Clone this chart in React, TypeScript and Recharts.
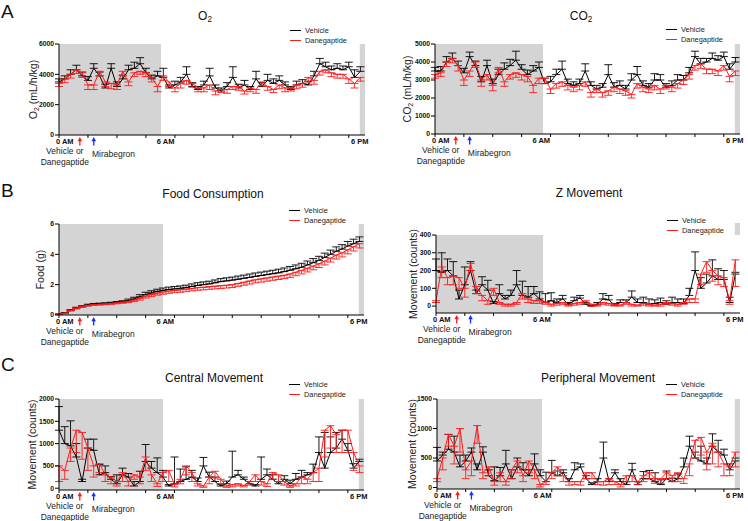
import React from 'react';
import { LineChart, Line, XAxis, YAxis, ErrorBar, ReferenceArea, ReferenceLine } from 'recharts';

const FONT = '"Liberation Sans", Arial, Helvetica, sans-serif';

// ---- categories (20-min sample index, 0 AM .. ~6 PM) ----
const sampleIndex = Array.from({ length: 53 }, (_, i) => i);
const xTicks = [0, 5, 10, 15, 20, 25, 30, 35, 40, 45, 50];
const X_MAX = 52.8;
const LIGHTS_OFF = 51.9; // 6 PM
const timeLabels = [
  { at: 1.0, text: '0 AM' },
  { at: 18.4, text: '6 AM' },
  { at: 51.9, text: '6 PM' },
];
const treatmentAt = 3.6;
const mirabegronAt = 6.0;
const seriesNames = ['Vehicle', 'Danegaptide'];
const seriesColors = ['#000000', '#ff1a1a'];

// ---- O2 ----
const o2Vehicle = [3500, 3700, 4000, 4300, 3900, 3600, 4400, 3900, 3100, 4400,
  3200, 3700, 4300, 4400, 4700, 4100, 3700, 3900, 3800, 3100,
  3300, 3500, 4000, 3200, 3000, 3300, 3900, 3100, 2900, 3200,
  3800, 3100, 3300, 3000, 3700, 3200, 3600, 3400, 3600, 3300,
  3000, 3300, 3400, 3300, 3900, 4700, 4500, 4300, 4400, 4300,
  4500, 3800, 4200];
const o2VehicleErr = [200, 200, 300, 300, 250, 250, 300, 250, 250, 300,
  300, 250, 300, 400, 400, 300, 250, 300, 600, 200,
  250, 300, 500, 250, 200, 250, 500, 200, 200, 250,
  700, 250, 300, 200, 500, 250, 400, 300, 300, 200,
  200, 250, 250, 250, 300, 350, 300, 250, 300, 250,
  300, 500, 300];
const o2Dan = [3400, 3700, 4000, 4300, 4100, 3300, 3300, 4200, 3500, 3400,
  3300, 4200, 3500, 4100, 4200, 4100, 3800, 3200, 3900, 3500,
  3100, 3400, 3600, 3400, 3100, 3100, 3300, 2900, 3000, 3000,
  3200, 3200, 2900, 3100, 3000, 3500, 3200, 3000, 3300, 3100,
  3100, 3300, 3400, 3800, 3600, 4200, 4300, 4100, 4000, 4000,
  3700, 3400, 3800];
const o2DanErr = [200, 250, 250, 250, 300, 300, 300, 300, 300, 350,
  300, 300, 250, 250, 200, 250, 300, 350, 300, 300,
  250, 300, 250, 250, 250, 250, 300, 250, 200, 250,
  200, 250, 200, 250, 250, 250, 250, 200, 250, 250,
  200, 250, 250, 300, 250, 250, 200, 250, 250, 250,
  300, 300, 250];

// ---- CO2 ----
const co2Vehicle = [3500, 3500, 4000, 4200, 3800, 3400, 4300, 3800, 2900, 3800,
  2800, 3300, 3600, 3800, 4100, 3600, 3300, 3500, 3700, 2800,
  2900, 3300, 3600, 2800, 2700, 2800, 3500, 2700, 2500, 2600,
  3300, 2600, 2700, 2500, 3000, 3300, 2700, 2600, 3000, 3000,
  2600, 2700, 3000, 3000, 3400, 4300, 3900, 4000, 4200, 4100,
  4300, 3600, 4000];
const co2VehicleErr = [200, 250, 300, 300, 250, 250, 250, 250, 300, 300,
  250, 300, 350, 350, 500, 250, 250, 300, 300, 300,
  300, 300, 450, 250, 200, 250, 400, 200, 200, 200,
  550, 250, 250, 200, 350, 450, 250, 200, 350, 300,
  200, 250, 300, 250, 300, 300, 300, 200, 300, 250,
  250, 300, 250];
const co2Dan = [3300, 3400, 4000, 4200, 3800, 3000, 3500, 4000, 3000, 3300,
  2700, 3700, 2900, 3300, 3400, 3300, 3200, 2700, 3100, 3100,
  2500, 2800, 2900, 2700, 2600, 2700, 2900, 2300, 2500, 2300,
  2400, 2600, 2500, 2400, 2200, 2800, 2600, 2500, 2700, 2500,
  2700, 2600, 2800, 3000, 3300, 3800, 3900, 3600, 3600, 3500,
  3800, 3200, 3500];
const co2DanErr = [200, 200, 250, 250, 300, 300, 300, 300, 350, 300,
  300, 300, 250, 250, 250, 300, 300, 400, 300, 300,
  250, 250, 250, 250, 250, 250, 250, 250, 200, 250,
  250, 250, 250, 250, 200, 250, 250, 200, 250, 250,
  200, 250, 250, 250, 250, 250, 250, 250, 250, 250,
  250, 300, 250];

// ---- Food ----
const foodVehicle = [0.05, 0.12, 0.30, 0.45, 0.55, 0.65, 0.70, 0.72, 0.75, 0.78,
  0.82, 0.86, 0.95, 1.05, 1.20, 1.35, 1.45, 1.55, 1.62, 1.68,
  1.72, 1.76, 1.80, 1.88, 1.95, 2.00, 2.05, 2.12, 2.20, 2.25,
  2.30, 2.36, 2.42, 2.48, 2.55, 2.60, 2.66, 2.72, 2.78, 2.86,
  2.95, 3.05, 3.15, 3.30, 3.45, 3.60, 3.80, 4.00, 4.20, 4.35,
  4.55, 4.70, 4.85];
const foodVehicleErr = [0.02, 0.04, 0.05, 0.06, 0.06, 0.06, 0.06, 0.06, 0.06, 0.06,
  0.07, 0.08, 0.10, 0.12, 0.14, 0.15, 0.15, 0.15, 0.16, 0.16,
  0.16, 0.16, 0.17, 0.17, 0.18, 0.18, 0.18, 0.19, 0.20, 0.20,
  0.20, 0.21, 0.21, 0.22, 0.22, 0.23, 0.23, 0.23, 0.24, 0.24,
  0.25, 0.25, 0.26, 0.26, 0.27, 0.27, 0.28, 0.28, 0.29, 0.29,
  0.30, 0.30, 0.30];
const foodDan = [0.05, 0.12, 0.30, 0.45, 0.55, 0.63, 0.68, 0.70, 0.73, 0.76,
  0.80, 0.84, 0.90, 0.98, 1.10, 1.25, 1.35, 1.45, 1.52, 1.58,
  1.62, 1.66, 1.70, 1.75, 1.80, 1.83, 1.86, 1.90, 1.93, 1.96,
  2.00, 2.08, 2.16, 2.24, 2.32, 2.38, 2.44, 2.50, 2.56, 2.62,
  2.70, 2.82, 2.94, 3.08, 3.22, 3.38, 3.55, 3.75, 3.95, 4.10,
  4.30, 4.50, 4.70];
const foodDanErr = [0.02, 0.03, 0.04, 0.05, 0.05, 0.05, 0.05, 0.05, 0.05, 0.06,
  0.06, 0.07, 0.08, 0.10, 0.12, 0.13, 0.14, 0.14, 0.15, 0.15,
  0.15, 0.16, 0.16, 0.16, 0.17, 0.17, 0.17, 0.18, 0.18, 0.18,
  0.19, 0.19, 0.20, 0.20, 0.20, 0.21, 0.21, 0.21, 0.22, 0.22,
  0.22, 0.23, 0.23, 0.24, 0.24, 0.25, 0.25, 0.26, 0.26, 0.27,
  0.27, 0.28, 0.28];

// ---- Z movement ----
const zVehicle = [200, 190, 200, 170, 40, 120, 200, 70, 120, 90,
  15, 70, 40, 60, 120, 60, 50, 70, 40, 20,
  30, 20, 40, 10, 30, 45, 10, 0, 10, 40,
  35, 5, 20, 20, 50, 20, 20, 10, 15, 20,
  10, 20, 20, 15, 60, 200, 100, 130, 170, 150,
  150, 20, 180];
const zVehicleErr = [65, 110, 65, 80, 50, 100, 50, 20, 45, 55,
  10, 50, 20, 30, 80, 80, 60, 40, 40, 50,
  45, 20, 20, 10, 20, 15, 10, 5, 10, 30,
  25, 10, 15, 15, 35, 20, 30, 30, 20, 25,
  20, 30, 20, 25, 40, 105, 60, 50, 90, 60,
  50, 30, 10];
const zDan = [30, 220, 160, 170, 160, 100, 240, 110, 60, 30,
  100, 20, 10, 10, 20, 70, 40, 30, 30, 20,
  10, 15, 20, 5, 15, 20, 30, 10, 5, 20,
  15, 10, 5, 20, 10, 5, 15, 10, 5, 10,
  20, 15, 10, 20, 40, 40, 180, 250, 200, 170,
  160, 30, 260];
const zDanErr = [10, 60, 40, 50, 60, 50, 40, 40, 30, 20,
  40, 10, 10, 10, 10, 30, 20, 15, 15, 10,
  10, 10, 10, 5, 10, 10, 15, 10, 5, 10,
  10, 10, 5, 10, 10, 5, 10, 10, 5, 10,
  10, 10, 10, 10, 20, 20, 60, 60, 60, 50,
  50, 20, 150];

// ---- Central movement ----
const centralVehicle = [1300, 1000, 950, 700, 150, 900, 850, 300, 350, 200,
  100, 300, 250, 50, 150, 600, 450, 350, 250, 50,
  100, 150, 200, 250, 150, 500, 250, 150, 50, 100,
  250, 300, 200, 100, 50, 200, 300, 200, 100, 200,
  100, 200, 250, 300, 350, 800, 450, 800, 900, 1100,
  850, 450, 600];
const centralVehicleErr = [530, 380, 560, 300, 50, 200, 250, 230, 150, 60,
  200, 150, 80, 100, 230, 380, 150, 330, 150, 30,
  600, 280, 280, 150, 80, 190, 110, 100, 40, 60,
  580, 100, 50, 50, 30, 500, 130, 100, 50, 80,
  80, 130, 150, 50, 190, 350, 800, 350, 350, 200,
  150, 100, 50];
const centralDan = [500, 400, 900, 1300, 1250, 900, 500, 550, 300, 250,
  150, 350, 150, 300, 250, 700, 300, 100, 350, 400,
  80, 200, 500, 350, 100, 50, 250, 380, 200, 50,
  80, 100, 60, 150, 300, 150, 100, 350, 300, 150,
  50, 100, 250, 200, 350, 450, 1300, 1400, 1200, 1300,
  1300, 800, 500];
const centralDanErr = [350, 200, 300, 500, 600, 500, 250, 200, 150, 150,
  100, 200, 100, 100, 150, 300, 150, 60, 200, 250,
  50, 100, 200, 200, 50, 30, 150, 150, 100, 30,
  50, 50, 30, 80, 150, 80, 60, 150, 150, 80,
  30, 50, 150, 100, 200, 300, 600, 500, 400, 500,
  500, 400, 150];

// ---- Peripheral movement ----
const periVehicle = [450, 550, 650, 600, 350, 450, 600, 300, 600, 200,
  120, 200, 400, 150, 350, 300, 200, 400, 200, 100,
  250, 200, 250, 100, 300, 350, 150, 50, 100, 500,
  100, 250, 100, 50, 300, 50, 150, 150, 100, 50,
  150, 100, 150, 350, 700, 500, 450, 400, 700, 600,
  550, 300, 450];
const periVehicleErr = [230, 50, 250, 270, 200, 100, 70, 100, 90, 100,
  230, 140, 230, 150, 150, 120, 100, 170, 100, 160,
  210, 80, 50, 50, 120, 50, 50, 30, 50, 270,
  50, 50, 50, 50, 110, 50, 120, 140, 150, 80,
  130, 60, 80, 150, 170, 100, 250, 100, 210, 200,
  100, 100, 50];
const periDan = [150, 500, 900, 700, 1000, 300, 450, 1050, 250, 350,
  100, 250, 100, 300, 450, 200, 450, 300, 50, 100,
  250, 350, 200, 100, 100, 100, 250, 250, 100, 100,
  150, 100, 50, 200, 200, 100, 200, 250, 150, 150,
  250, 200, 250, 150, 400, 800, 850, 600, 750, 600,
  400, 350, 600];
const periDanErr = [50, 200, 200, 300, 400, 150, 250, 300, 100, 150,
  60, 150, 60, 150, 200, 100, 200, 150, 40, 50,
  100, 150, 100, 60, 50, 60, 100, 100, 50, 60,
  100, 50, 40, 100, 100, 50, 100, 100, 80, 80,
  100, 100, 150, 80, 200, 300, 300, 300, 350, 250,
  200, 150, 250];

type Panel = {
  id: string;
  letter?: string;
  letterTop?: number;
  title: React.ReactNode;
  titleX: number;
  titleY: number;
  yLabel: { pre: string; sub?: string; post?: string };
  yLabelX: number;
  vehicle: number[];
  vehicleErr: number[];
  dan: number[];
  danErr: number[];
  domain: [number, number];
  yTicks: number[];
  darkEnd: number;
  stripTop?: number;
  box: { left: number; top: number; width: number; height: number };
  plot: { left: number; top: number; right: number; bottom: number };
  legendX: number;
  legendY: number;
};

const sub = (s: string) => <sub style={{ fontSize: '0.68em', verticalAlign: '-0.25em', lineHeight: 0 }}>{s}</sub>;

const panels: Panel[] = [
  {
    id: 'o2', letter: 'A', letterTop: 1,
    title: <span>O{sub('2')}</span>, titleX: 205, titleY: 16,
    yLabel: { pre: 'O', sub: '2', post: ' (mL/h/kg)' }, yLabelX: 32.5,
    vehicle: o2Vehicle, vehicleErr: o2VehicleErr, dan: o2Dan, danErr: o2DanErr,
    domain: [0, 6000], yTicks: [0, 2000, 4000, 6000], darkEnd: 17.6,
    box: { left: 0, top: 0, width: 374, height: 175 },
    plot: { left: 59, top: 44, right: 365, bottom: 135 },
    legendX: 290, legendY: 30,
  },
  {
    id: 'co2',
    title: <span>CO{sub('2')}</span>, titleX: 581, titleY: 16,
    yLabel: { pre: 'CO', sub: '2', post: ' (mL/h/kg)' }, yLabelX: 406.5,
    vehicle: co2Vehicle, vehicleErr: co2VehicleErr, dan: co2Dan, danErr: co2DanErr,
    domain: [0, 5000], yTicks: [0, 1000, 2000, 3000, 4000, 5000], darkEnd: 18.7,
    box: { left: 374, top: 0, width: 374, height: 175 },
    plot: { left: 435, top: 44, right: 740, bottom: 134 },
    legendX: 666, legendY: 29,
  },
  {
    id: 'food', letter: 'B', letterTop: 180,
    title: 'Food Consumption', titleX: 213, titleY: 194,
    yLabel: { pre: 'Food (g)' }, yLabelX: 40,
    vehicle: foodVehicle, vehicleErr: foodVehicleErr, dan: foodDan, danErr: foodDanErr,
    domain: [0, 6], yTicks: [0, 2, 4, 6], darkEnd: 18.0,
    box: { left: 0, top: 175, width: 374, height: 175 },
    plot: { left: 59, top: 224, right: 364, bottom: 315 },
    legendX: 289, legendY: 210,
  },
  {
    id: 'z',
    title: 'Z Movement', titleX: 589, titleY: 193,
    yLabel: { pre: 'Movement (counts)' }, yLabelX: 413,
    vehicle: zVehicle, vehicleErr: zVehicleErr, dan: zDan, danErr: zDanErr,
    domain: [-39, 400], yTicks: [0, 100, 200, 300, 400], darkEnd: 18.6, stripTop: 468,
    box: { left: 374, top: 175, width: 374, height: 175 },
    plot: { left: 436, top: 235, right: 740, bottom: 313 },
    legendX: 667, legendY: 220,
  },
  {
    id: 'central', letter: 'C', letterTop: 354,
    title: 'Central Movement', titleX: 214, titleY: 378,
    yLabel: { pre: 'Movement (counts)' }, yLabelX: 31.7,
    vehicle: centralVehicle, vehicleErr: centralVehicleErr, dan: centralDan, danErr: centralDanErr,
    domain: [-40, 2000], yTicks: [0, 500, 1000, 1500, 2000], darkEnd: 18.0,
    box: { left: 0, top: 350, width: 374, height: 171 },
    plot: { left: 59, top: 399, right: 364, bottom: 490 },
    legendX: 289, legendY: 384,
  },
  {
    id: 'peri',
    title: 'Peripheral Movement', titleX: 598, titleY: 378,
    yLabel: { pre: 'Movement (counts)' }, yLabelX: 411.5,
    vehicle: periVehicle, vehicleErr: periVehicleErr, dan: periDan, danErr: periDanErr,
    domain: [-25, 1500], yTicks: [0, 500, 1000, 1500], darkEnd: 18.3,
    box: { left: 374, top: 350, width: 374, height: 171 },
    plot: { left: 437, top: 399, right: 740, bottom: 489 },
    legendX: 666, legendY: 384,
  },
];

const TimeLabel = (props: any) => {
  const vb = props.viewBox || {};
  const x = vb.x;
  const base = (vb.y || 0) + (vb.height || 0);
  return (
    <text x={x} y={base + 6.8} textAnchor="middle" dominantBaseline="central"
      fontFamily={FONT} fontSize={7.5} fontWeight="bold" fill="#111">{props.labelText}</text>
  );
};

const ArrowMark = (props: any) => {
  const vb = props.viewBox || {};
  const x = vb.x;
  const base = (vb.y || 0) + (vb.height || 0);
  const c = props.color;
  return (
    <g>
      <path d={`M${x},${base + 2} L${x + 2.3},${base + 6.2} L${x - 2.3},${base + 6.2} Z`} fill={c} />
      <line x1={x} y1={base + 5} x2={x} y2={base + 10.5} stroke={c} strokeWidth={1.3} />
    </g>
  );
};

const NoteText = (props: any) => {
  const vb = props.viewBox || {};
  const x = vb.x;
  const base = (vb.y || 0) + (vb.height || 0);
  const lines: string[] = props.lines;
  const offs: number[] = props.offs;
  return (
    <g>
      {lines.map((l, k) => (
        <text key={k} x={x} y={base + offs[k]} textAnchor="middle" dominantBaseline="central"
          fontFamily={FONT} fontSize={8.5} fill="#222">{l}</text>
      ))}
    </g>
  );
};

const YLabel = (props: any) => {
  const vb = props.viewBox || {};
  const x = (vb.x || 0) + props.offX;
  const y = (vb.y || 0) + (vb.height || 0) / 2;
  const t = props.parts;
  return (
    <text x={x} y={y} transform={`rotate(-90, ${x}, ${y})`} textAnchor="middle" dominantBaseline="central"
      fontFamily={FONT} fontSize={10.5} fill="#222">
      <tspan>{t.pre}</tspan>
      {t.sub ? <tspan fontSize={7} dy={3}>{t.sub}</tspan> : null}
      {t.sub ? <tspan dy={-3}>{t.post}</tspan> : null}
    </text>
  );
};

function PanelChart({ p }: { p: Panel }) {
  const data = sampleIndex.map((i) => ({
    t: i,
    v: p.vehicle[i],
    vErr: [0, p.vehicleErr[i]],
    d: p.dan[i],
    dErr: [p.danErr[i], 0],
  }));
  const margin = {
    top: p.plot.top - p.box.top,
    right: p.box.left + p.box.width - p.plot.right,
    left: 0,
    bottom: 0,
  };
  const yAxisWidth = p.plot.left - p.box.left;
  const xAxisHeight = p.box.top + p.box.height - p.plot.bottom;
  return (
    <div style={{ position: 'absolute', left: p.box.left, top: p.box.top }}>
      <LineChart width={p.box.width} height={p.box.height} data={data} margin={margin}>
        <ReferenceArea x1={0} x2={p.darkEnd} fill="#d4d4d4" fillOpacity={1} stroke="none" />
        <ReferenceArea x1={LIGHTS_OFF} x2={X_MAX} y2={p.stripTop} fill="#d4d4d4" fillOpacity={1} stroke="none"
          ifOverflow="visible" />
        <XAxis type="number" dataKey="t" domain={[0, X_MAX]} ticks={xTicks} tickFormatter={() => ''}
          tickSize={3} height={xAxisHeight} axisLine={{ stroke: '#000', strokeWidth: 1 }}
          tickLine={{ stroke: '#000', strokeWidth: 1 }} allowDataOverflow />
        <YAxis type="number" domain={p.domain} ticks={p.yTicks} width={yAxisWidth} tickSize={4} tickMargin={1}
          interval={0}
          tick={{ fontSize: 6.8, fontWeight: 'bold', fill: '#111', fontFamily: FONT }}
          axisLine={{ stroke: '#000', strokeWidth: 1 }} tickLine={{ stroke: '#000', strokeWidth: 1 }}
          allowDataOverflow
          label={<YLabel offX={p.yLabelX - p.box.left} parts={p.yLabel} />} />
        <Line type="linear" dataKey="v" name={seriesNames[0]} stroke={seriesColors[0]} strokeWidth={1}
          dot={false} isAnimationActive={false}>
          <ErrorBar dataKey="vErr" width={4} stroke={seriesColors[0]} strokeWidth={0.9} isAnimationActive={false} />
        </Line>
        <Line type="linear" dataKey="d" name={seriesNames[1]} stroke={seriesColors[1]} strokeWidth={1}
          dot={false} isAnimationActive={false}>
          <ErrorBar dataKey="dErr" width={4} stroke={seriesColors[1]} strokeWidth={0.9} isAnimationActive={false} />
        </Line>
        {timeLabels.map((tl) => (
          <ReferenceLine key={tl.text} x={tl.at} stroke="none" ifOverflow="visible"
            label={<TimeLabel labelText={tl.text} />} />
        ))}
        <ReferenceLine x={treatmentAt} stroke="none" label={<ArrowMark color="#ff1a1a" />} />
        <ReferenceLine x={mirabegronAt} stroke="none" label={<ArrowMark color="#1a2bff" />} />
        <ReferenceLine x={1.0} stroke="none" label={<NoteText lines={['Vehicle or', 'Danegaptide']} offs={[16, 26.5]} />} />
        <ReferenceLine x={9.4} stroke="none" label={<NoteText lines={['Mirabegron']} offs={[19]} />} />
      </LineChart>
    </div>
  );
}

function PanelDecor({ p }: { p: Panel }) {
  return (
    <>
      {p.letter ? (
        <div style={{ position: 'absolute', left: 1, top: p.letterTop, fontFamily: FONT, fontSize: 19, lineHeight: '21px', color: '#111' }}>
          {p.letter}
        </div>
      ) : null}
      <div style={{ position: 'absolute', left: p.titleX, top: p.titleY, transform: 'translate(-50%, -50%)', fontFamily: FONT, fontSize: 12, lineHeight: '14px', color: '#111', whiteSpace: 'nowrap' }}>
        {p.title}
      </div>
      <div style={{ position: 'absolute', left: p.legendX, top: p.legendY - 5, fontFamily: FONT, fontSize: 7.4, color: '#222' }}>
        {seriesNames.map((n, k) => (
          <div key={n} style={{ display: 'flex', alignItems: 'center', height: 10.3, whiteSpace: 'nowrap' }}>
            <span style={{ display: 'inline-block', width: 11, height: 1, background: seriesColors[k], marginRight: 4 }} />
            {n}
          </div>
        ))}
      </div>
    </>
  );
}

export default function App() {
  return (
    <div style={{ position: 'absolute', left: 0, top: 0, width: 748, height: 521, background: '#fff', overflow: 'hidden' }}>
      {panels.map((p) => (
        <PanelChart key={p.id} p={p} />
      ))}
      {panels.map((p) => (
        <PanelDecor key={'d' + p.id} p={p} />
      ))}
    </div>
  );
}
